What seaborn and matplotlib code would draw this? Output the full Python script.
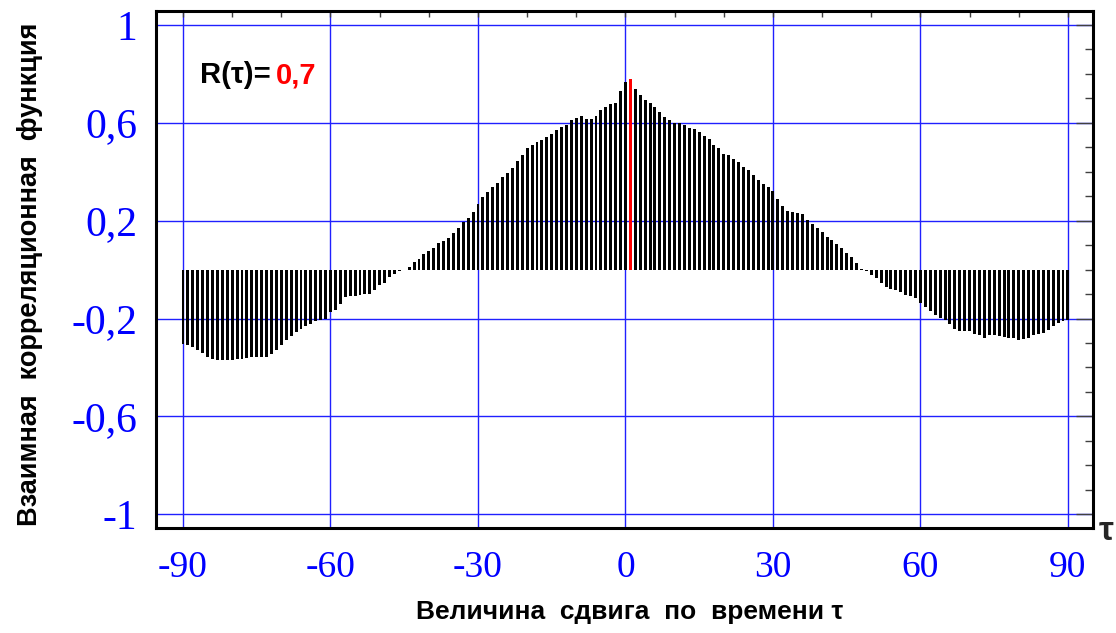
import numpy as np
import pandas as pd
import matplotlib
matplotlib.use("Agg")
import matplotlib.pyplot as plt
from matplotlib.ticker import MultipleLocator
import seaborn as sns

# cross-correlation values, one bar per lag
lags = list(range(-90, 91))
r_left = [  # lags -90 .. -1
    -0.306, -0.309, -0.316, -0.327, -0.340, -0.359, -0.366, -0.370, -0.370, -0.370,
    -0.370, -0.367, -0.367, -0.363, -0.359, -0.359, -0.357, -0.359, -0.343, -0.327,
    -0.309, -0.289, -0.272, -0.255, -0.241, -0.231, -0.221, -0.211, -0.207, -0.200,
    -0.173, -0.166, -0.139, -0.112, -0.108, -0.108, -0.105, -0.098, -0.098, -0.082,
    -0.064, -0.053, -0.030, -0.016, -0.004, 0.000, 0.011, 0.033, 0.044, 0.065,
    0.076, 0.090, 0.107, 0.118, 0.129, 0.150, 0.171, 0.193, 0.211, 0.235,
    0.267, 0.297, 0.317, 0.337, 0.354, 0.378, 0.396, 0.416, 0.444, 0.468,
    0.497, 0.511, 0.522, 0.529, 0.544, 0.555, 0.569, 0.582, 0.593, 0.610,
    0.620, 0.626, 0.615, 0.615, 0.626, 0.653, 0.664, 0.675, 0.680, 0.729,
]
r_center = [0.767, 0.778]  # lags 0, 1
r_right = [  # lags 2 .. 90
    0.739, 0.714, 0.694, 0.680, 0.664, 0.644, 0.623, 0.610, 0.600, 0.600,
    0.593, 0.580, 0.575, 0.562, 0.548, 0.532, 0.511, 0.498, 0.473, 0.467,
    0.453, 0.440, 0.419, 0.408, 0.388, 0.367, 0.348, 0.337, 0.321, 0.290,
    0.258, 0.240, 0.234, 0.231, 0.226, 0.204, 0.188, 0.171, 0.154, 0.133,
    0.120, 0.103, 0.090, 0.069, 0.052, 0.027, 0.004, -0.004, -0.023, -0.034,
    -0.054, -0.071, -0.079, -0.084, -0.093, -0.102, -0.109, -0.115, -0.136, -0.152,
    -0.170, -0.184, -0.197, -0.207, -0.224, -0.242, -0.249, -0.249, -0.252, -0.265,
    -0.269, -0.279, -0.269, -0.269, -0.272, -0.275, -0.279, -0.279, -0.286, -0.282,
    -0.279, -0.269, -0.265, -0.258, -0.248, -0.231, -0.218, -0.210, -0.205,
]
peak_lag = 1
r_text = "0,7"

x_ticks = [-90, -60, -30, 0, 30, 60, 90]
x_tick_labels = ["-90", "-60", "-30", "0", "30", "60", "90"]
y_ticks = [-1, -0.6, -0.2, 0.2, 0.6, 1]
y_tick_labels = ["-1", "-0,6", "-0,2", "0,2", "0,6", "1"]

df = pd.DataFrame({"lag": lags, "r": r_left + r_center + r_right})
df["kind"] = np.where(df["lag"] == peak_lag, "peak", "other")

sns.set_style("white")
plt.rcParams["font.family"] = ["Liberation Sans", "DejaVu Sans"]

fig = plt.figure(figsize=(11.16, 6.33), dpi=100)
ax = fig.add_axes([0.1402, 0.1659, 0.8392, 0.8167])

sns.barplot(data=df, x="lag", y="r", hue="kind",
            palette={"other": "black", "peak": "red"},
            native_scale=True, dodge=False, width=0.6, saturation=1,
            linewidth=0, legend=False, ax=ax)

ax.set_xlim(-95.4, 95.1)
ax.set_ylim(-1.056, 1.057)
ax.set_xticks(x_ticks)
ax.set_xticklabels(x_tick_labels, fontfamily="Liberation Serif", fontsize=27)
ax.set_yticks(y_ticks)
ax.set_yticklabels(y_tick_labels, fontfamily="Liberation Serif", fontsize=30)
ax.xaxis.set_minor_locator(MultipleLocator(10))
ax.yaxis.set_minor_locator(MultipleLocator(0.1))

ax.tick_params(axis="both", which="both", direction="in", color="#404040",
               width=1, labelcolor="blue", top=True, right=True)
ax.tick_params(axis="y", which="major", length=12, pad=14)
ax.tick_params(axis="y", which="minor", length=6)
ax.tick_params(axis="x", which="both", length=4, pad=16)

ax.grid(True, which="major", color="#2020ff", linewidth=1.0)
ax.set_axisbelow(True)
for sp in ax.spines.values():
    sp.set_linewidth(2.2)
    sp.set_color("black")

ax.set_xlabel("Величина  сдвига  по  времени τ", fontsize=19,
              fontweight="bold", color="black")
ax.xaxis.set_label_coords(0.5056, -0.14)
ax.set_ylabel("Взаимная  корреляционная  функция", fontsize=19.5,
              fontweight="bold", color="black")
ax.yaxis.set_label_coords(-0.121, 0.49)

ax.text(-72.2, 0.795, "R(τ)=", fontsize=21, fontweight="bold",
        color="black", ha="right", va="center")
ax.text(-71.2, 0.795, r_text, fontsize=21, fontweight="bold",
        color="red", ha="left", va="center")
fig.text(1099 / 1116, 1 - 532 / 633, "τ", fontsize=24, fontweight="bold",
         ha="left", va="center")

fig.savefig("out.png", dpi=100)
